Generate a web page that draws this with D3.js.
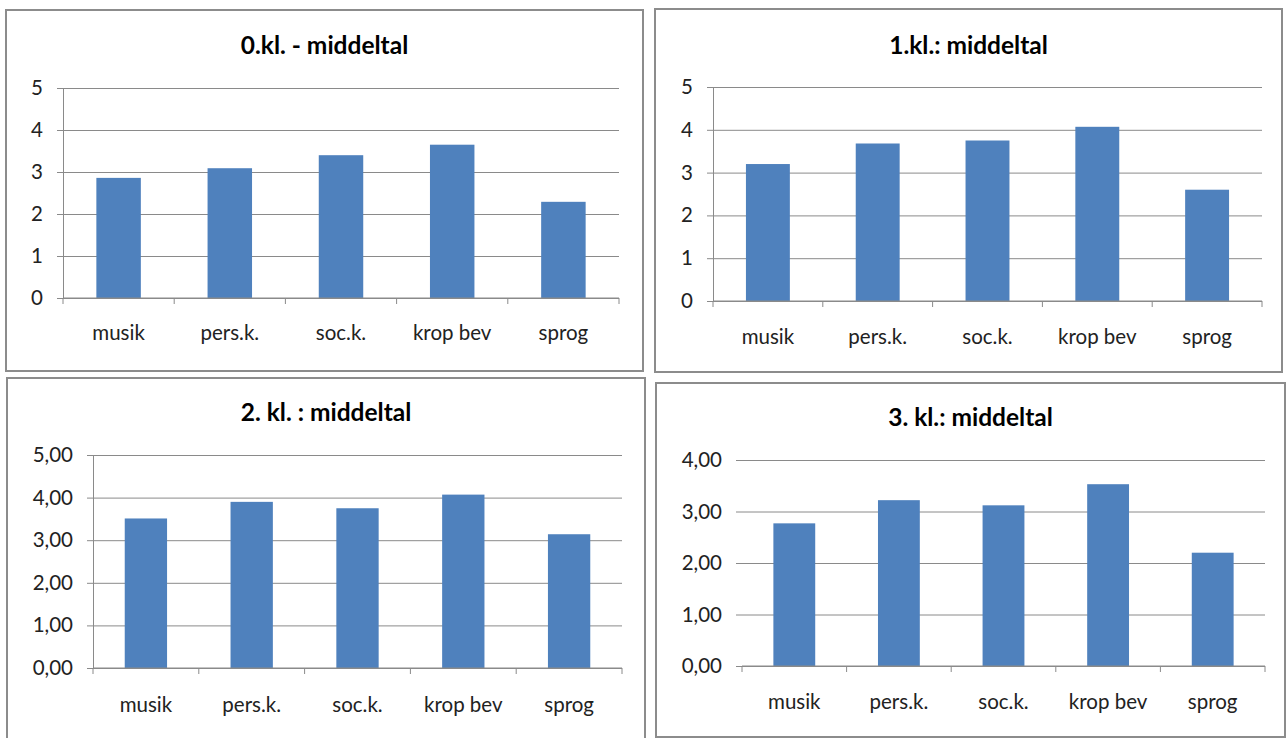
<!DOCTYPE html>
<html>
<head>
<meta charset="utf-8">
<script src="https://cdn.jsdelivr.net/npm/d3@7"></script>
<style>
    body { margin: 0; background: #fff; }
    svg { display: block; }
    text { font-family: Lato, 'Open Sans', sans-serif; fill: #222; }
</style>
</head>
<body>
<div id="chart"></div>
<script>
const WIDTH = 1287;
const HEIGHT = 738;
const BAR_COLOR = '#4f81bd';
const GRID_COLOR = '#8a8a8a';
const LABEL_SIZE = '20.5px';

// Data
const categories = ['musik', 'pers.k.', 'soc.k.', 'krop bev', 'sprog'];
const titles = ['0.kl. - middeltal', '1.kl.: middeltal', '2. kl. : middeltal', '3. kl.: middeltal'];
const values0 = [2.86, 3.09, 3.40, 3.65, 2.29];
const values1 = [3.20, 3.68, 3.75, 4.07, 2.60];
const values2 = [3.51, 3.90, 3.75, 4.07, 3.14];
const values3 = [2.77, 3.22, 3.12, 3.53, 2.20];
const ticks0 = [0, 1, 2, 3, 4, 5];
const ticks1 = [0, 1, 2, 3, 4, 5];
const ticks2 = [0, 1, 2, 3, 4, 5];
const ticks3 = [0, 1, 2, 3, 4];

const intFormat = d => d3.format('d')(d);
const commaFormat = d => d3.format('.2f')(d).replace('.', ',');

// Panel layout (frame + plot area in page pixels)
const panels = [
    { values: values0, ticks: ticks0, title: titles[0], fmt: intFormat, yAxisLine: true,
      frame: [6, 10, 643, 371], plot: { left: 63, right: 619, top: 88, bottom: 298 }, titleY: 45, labelY: 333 },
    { values: values1, ticks: ticks1, title: titles[1], fmt: intFormat, yAxisLine: true,
      frame: [655, 9, 1282, 372], plot: { left: 713, right: 1262, top: 87, bottom: 301 }, titleY: 45, labelY: 337 },
    { values: values2, ticks: ticks2, title: titles[2], fmt: commaFormat, yAxisLine: true,
      frame: [7, 378, 645, 745], plot: { left: 93, right: 622, top: 455, bottom: 668 }, titleY: 412, labelY: 705 },
    { values: values3, ticks: ticks3, title: titles[3], fmt: commaFormat, yAxisLine: false,
      frame: [656, 383, 1285, 737], plot: { left: 742, right: 1265, top: 460, bottom: 666 }, titleY: 417, labelY: 702 },
];

const svg = d3.select('#chart')
    .append('svg')
    .attr('width', WIDTH)
    .attr('height', HEIGHT);

panels.forEach(p => drawPanel(p));

function drawPanel(p) {
    const [fx0, fy0, fx1, fy1] = p.frame;
    const g = svg.append('g');

    // Frame
    g.append('rect')
        .attr('x', fx0)
        .attr('y', fy0)
        .attr('width', fx1 - fx0)
        .attr('height', fy1 - fy0)
        .style('fill', '#fff')
        .style('stroke', '#8c8c8c')
        .style('stroke-width', 2);

    // Title
    g.append('text')
        .attr('x', (fx0 + fx1) / 2)
        .attr('y', p.titleY)
        .attr('dy', '0.35em')
        .style('text-anchor', 'middle')
        .style('font-size', '24.5px')
        .style('font-weight', 'bold')
        .style('fill', '#000')
        .text(p.title);

    const x = d3.scaleBand()
        .domain(categories)
        .range([p.plot.left, p.plot.right])
        .paddingInner(0.6)
        .paddingOuter(0.3);

    const y = d3.scaleLinear()
        .domain([0, d3.max(p.ticks)])
        .range([p.plot.bottom, p.plot.top]);

    const plotW = p.plot.right - p.plot.left;

    // Gridlines + labels
    const yAxis = g.append('g')
        .attr('transform', `translate(${p.plot.left},0)`)
        .call(d3.axisLeft(y)
            .tickValues(p.ticks)
            .tickSize(-plotW)
            .tickSizeOuter(0)
            .tickPadding(20)
            .tickFormat(p.fmt));
    yAxis.select('.domain').remove();
    yAxis.selectAll('line')
        .style('stroke', GRID_COLOR)
        .style('stroke-width', 1);
    yAxis.selectAll('text')
        .style('font-family', 'Lato, sans-serif')
        .style('font-size', LABEL_SIZE)
        .style('fill', '#222');

    // Outside tick marks on the value axis
    const yTicks = g.append('g')
        .attr('transform', `translate(${p.plot.left},0)`)
        .call(d3.axisLeft(y).tickValues(p.ticks).tickSize(6).tickSizeOuter(0).tickFormat(''));
    yTicks.selectAll('line').style('stroke', GRID_COLOR);
    yTicks.select('.domain')
        .style('stroke', GRID_COLOR)
        .style('display', p.yAxisLine ? null : 'none');

    // Bars
    g.selectAll('rect.bar')
        .data(p.values)
        .enter()
        .append('rect')
        .attr('class', 'bar')
        .attr('x', (d, i) => x(categories[i]))
        .attr('y', d => y(d))
        .attr('width', x.bandwidth())
        .attr('height', d => y(0) - y(d))
        .style('fill', BAR_COLOR);

    // Category axis: baseline and ticks at band boundaries
    const step = x.step();
    const bounds = categories.map((c, i) => p.plot.left + i * step);
    bounds.push(p.plot.right);

    g.append('line')
        .attr('x1', p.plot.left)
        .attr('x2', p.plot.right)
        .attr('y1', y(0))
        .attr('y2', y(0))
        .style('stroke', GRID_COLOR)
        .style('stroke-width', 1);

    g.selectAll('line.xtick')
        .data(bounds)
        .enter()
        .append('line')
        .attr('class', 'xtick')
        .attr('x1', d => d)
        .attr('x2', d => d)
        .attr('y1', y(0))
        .attr('y2', y(0) + 6)
        .style('stroke', GRID_COLOR);

    g.selectAll('text.cat')
        .data(categories)
        .enter()
        .append('text')
        .attr('class', 'cat')
        .attr('x', d => x(d) + x.bandwidth() / 2)
        .attr('y', p.labelY)
        .attr('dy', '0.35em')
        .style('text-anchor', 'middle')
        .style('font-size', LABEL_SIZE)
        .text(d => d);
}
</script>
</body>
</html>
